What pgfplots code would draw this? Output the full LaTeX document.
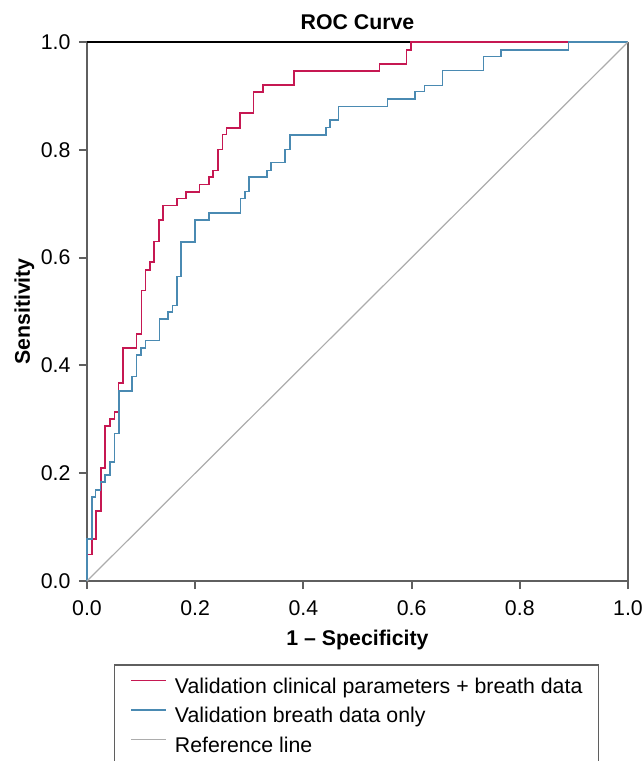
\documentclass[border=0pt]{standalone}
\usepackage{fontspec}
\setmainfont{Liberation Sans}
\usepackage{pgfplots}
\pgfplotsset{compat=1.18}
\definecolor{rocred}{RGB}{198,24,82}
\definecolor{rocblue}{RGB}{74,138,178}
\definecolor{refgray}{RGB}{172,172,172}
\definecolor{axgray}{RGB}{95,95,95}

\begin{document}
\fontsize{10.65}{12.8}\selectfont
\begin{tikzpicture}
\begin{axis}[
  at={(0,0)}, anchor=south west, scale only axis,
  width=270.5pt, height=269.5pt,
  xmin=0, xmax=1, ymin=0, ymax=1, clip=false,
  axis lines=left, axis line style={-, axgray, line width=1pt},
  tick align=outside, major tick length=4pt,
  tick style={axgray, line width=1pt},
  xtick={0,0.2,0.4,0.6,0.8,1}, ytick={0,0.2,0.4,0.6,0.8,1},
  xticklabels={0.0,0.2,0.4,0.6,0.8,1.0},
  yticklabels={0.0,0.2,0.4,0.6,0.8,1.0},
  xticklabel style={anchor=base, yshift=-13pt},
  yticklabel style={anchor=east, xshift=-0.5pt},
  title={\bfseries ROC Curve},
  title style={at={(axis description cs:0.5,1)}, anchor=base, yshift=0.5pt},
  xlabel={\bfseries 1 – Specificity},
  every axis x label/.style={at={(axis description cs:0.5,0)}, anchor=base, yshift=-32pt},
  ylabel={\bfseries Sensitivity},
  every axis y label/.style={at={(axis description cs:-0.1054,0.5)}, rotate=90, anchor=base},
  legend cell align=left,
  legend image code/.code={\draw[#1, line width=0.6pt] (0pt,3.8pt) -- (17.5pt,3.8pt);},
  legend style={at={(axis description cs:0.0499,-0.154)}, anchor=north west,
    draw=axgray, line width=0.75pt, inner xsep=8pt, inner ysep=4.3pt,
    row sep=0pt, column sep=4pt,
    nodes={inner sep=0pt, text height=10pt, text depth=4.75pt, line width=0.75pt}},
]
\draw[black, line width=0.7pt] (rel axis cs:0,1) -- (rel axis cs:1,1);
\draw[axgray, line width=1pt] (rel axis cs:1,0) -- (rel axis cs:1,1);

\addplot[const plot, rocred, line width=0.8pt] coordinates {
(0,0) (0,0.0495) (0.0092,0.0774) (0.0163,0.1304) (0.0255,0.2091)
(0.0336,0.2881) (0.0425,0.3006) (0.0508,0.3141) (0.0582,0.3679)
(0.0662,0.4328) (0.0915,0.4583) (0.1004,0.5386) (0.1085,0.5770)
(0.1170,0.5913) (0.1238,0.6302) (0.1331,0.6698) (0.1410,0.6963)
(0.1664,0.7093) (0.1830,0.7212) (0.2076,0.7353) (0.2250,0.7490)
(0.2329,0.7613) (0.2416,0.8009) (0.2501,0.8281) (0.2582,0.8404)
(0.2828,0.8683) (0.3078,0.9067) (0.3253,0.9202) (0.3826,0.9462)
(0.5403,0.9597) (0.5909,0.9851) (0.5994,1.0) (1,1)};
\addlegendentry{Validation clinical parameters + breath data}

\addplot[const plot, rocblue, line width=0.8pt] coordinates {
(0,0) (0,0.0774) (0.0092,0.1564) (0.0160,0.1688) (0.0253,0.1842)
(0.0333,0.1967) (0.0420,0.2213) (0.0505,0.2739) (0.0586,0.3525)
(0.0832,0.3794) (0.0915,0.4193) (0.0998,0.4328) (0.1081,0.4462)
(0.1337,0.4866) (0.1497,0.4991) (0.1577,0.5115) (0.1664,0.5646)
(0.1743,0.6295) (0.1996,0.6698) (0.2255,0.6828) (0.2834,0.7093)
(0.2921,0.7223) (0.3000,0.7490) (0.3322,0.7616) (0.3401,0.7764)
(0.3660,0.8009) (0.3752,0.8275) (0.4418,0.8417) (0.4492,0.8553)
(0.4652,0.8800) (0.5558,0.8943) (0.6068,0.9078) (0.6242,0.9196)
(0.6568,0.9471) (0.7326,0.9728) (0.7647,0.9852) (0.8897,1.0) (1,1)};
\addlegendentry{Validation breath data only}

\addplot[refgray, line width=0.6pt] coordinates {(0,0) (1,1)};
\addlegendentry{Reference line}
\end{axis}
\pgfresetboundingbox
\path (-43.5pt,-90pt) rectangle (277.5pt,290.5pt);
\end{tikzpicture}
\end{document}
